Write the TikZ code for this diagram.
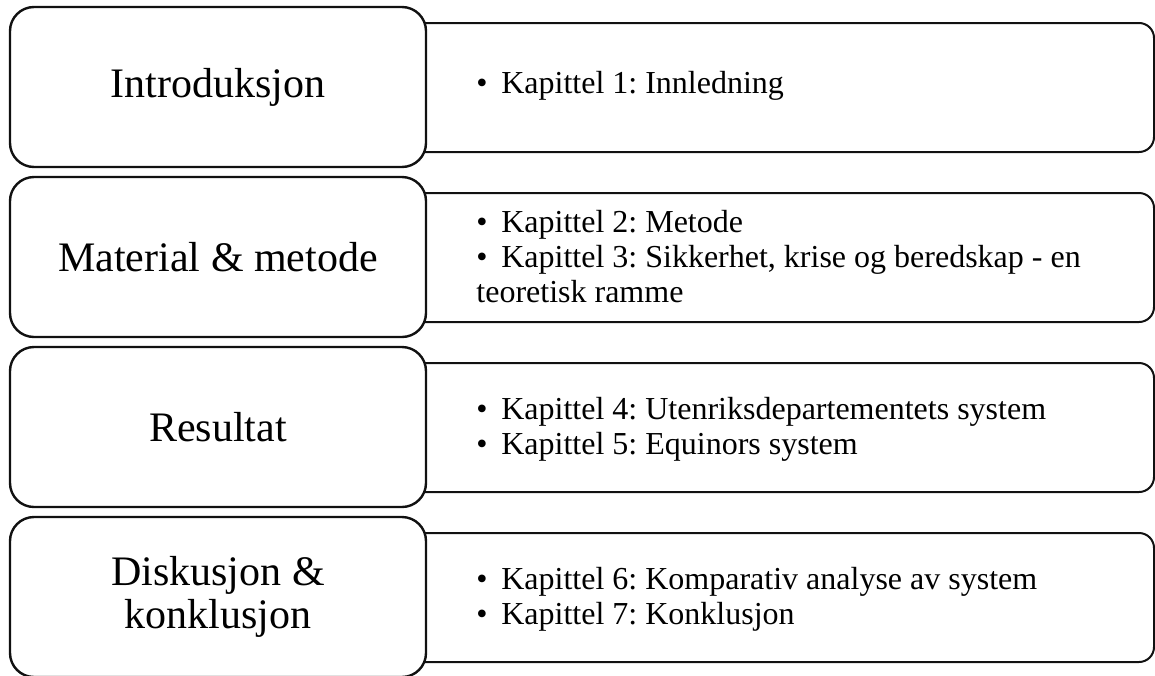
\documentclass[tikz,border=0pt]{standalone}
\usepackage{fontspec}
\setmainfont{Liberation Serif}
\usetikzlibrary{positioning}
\definecolor{linex}{HTML}{111111}
\tikzset{
  lb/.style={draw=linex,line width=1.2pt,rounded corners=12pt,fill=white,minimum width=208pt,minimum height=80pt,align=center,inner sep=0pt,font=\fontsize{21}{21.5}\selectfont},
  rb/.style={draw=linex,line width=1pt,rounded corners=7.5pt,fill=white,minimum width=387pt,minimum height=64.5pt,inner sep=0pt},
  rt/.style={anchor=west,align=left,inner sep=0pt,font=\fontsize{16}{17.5}\selectfont\frenchspacing}
}
\newcommand{\itm}{\makebox[0.78em][l]{•}}

\begin{document}
\begin{tikzpicture}[x=0.5pt,y=-0.5pt]
\clip (0,0) rectangle (1155,675);
% chapter boxes, drawn first so the part boxes cover their left ends
\node[rb] (r1) at (767,87.5) {};
\node[rb] (r2) at (767,257.5) {};
\node[rb] (r3) at (767,427.5) {};
\node[rb] (r4) at (767,597.5) {};
\node[rt] (t1) at (476,86) {\itm Kapittel 1: Innledning};
\node[rt] (t2) at (476,257) {\itm Kapittel 2: Metode\\\itm Kapittel 3: Sikkerhet, krise og beredskap - en\\teoretisk ramme};
\node[rt] (t3) at (476,429) {\itm Kapittel 4: Utenriksdepartementets system\\\itm Kapittel 5: Equinors system};
\node[rt] (t4) at (476,599) {\itm Kapittel 6: Komparativ analyse av system\\\itm Kapittel 7: Konklusjon};
% part boxes
\node[lb] (p1) at (218,87) {Introduksjon};
\node[lb] (p2) at (218,257) {Material \& metode};
\node[lb] (p3) at (218,427) {Resultat};
\node[lb] (p4) at (218,597) {Diskusjon \&\\konklusjon};
\end{tikzpicture}
\end{document}
